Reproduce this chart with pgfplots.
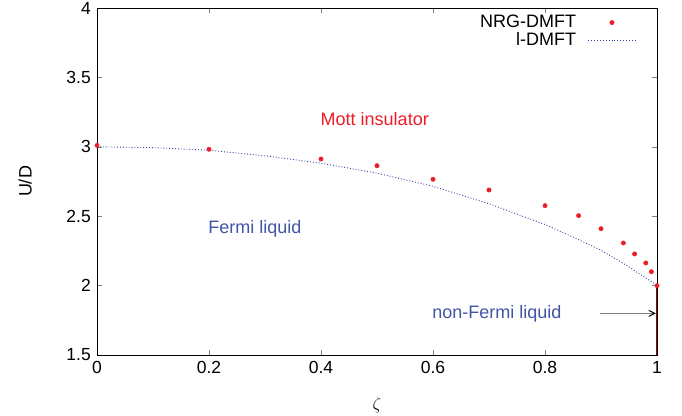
\documentclass[border=0pt]{standalone}
\usepackage{pgfplots}
\pgfplotsset{compat=1.18}
\usetikzlibrary{arrows.meta}
\usepackage{fontspec}
\setmainfont{Liberation Sans}
\definecolor{nrgred}{RGB}{235,30,40}
\definecolor{ldmftblue}{RGB}{45,65,165}
\definecolor{flblue}{RGB}{65,85,165}
\definecolor{darkred}{RGB}{130,10,10}
\pgfplotsset{
  dotleg/.style={legend image code/.code={\path (0bp,0bp) (47bp,0bp); \draw[##1] plot coordinates {(23.5bp,0bp)};}},
  lineleg/.style={legend image code/.code={\draw[##1] (0bp,0bp) -- (47bp,0bp);}},
}
\begin{document}
\fontsize{18bp}{20bp}\selectfont
\begin{tikzpicture}
\useasboundingbox (-97bp,-61bp) rectangle (585bp,355bp);
\begin{axis}[
  at={(0,0)}, anchor=south west,
  scale only axis, width=560bp, height=347bp,
  xmin=0, xmax=1, ymin=1.5, ymax=4,
  xtick={0,0.2,0.4,0.6,0.8,1},
  ytick={1.5,2,2.5,3,3.5,4},
  tick align=inside, major tick length=5bp,
  xtick pos=both, ytick pos=both,
  /pgf/number format/assume math mode=true,
  tick label style={font=\fontsize{17.5bp}{20bp}\selectfont},
  label style={font=\fontsize{18bp}{20bp}\selectfont},
  xlabel={$\zeta$}, ylabel={U/D},
  xlabel style={at={(axis description cs:0.5,-0.144)}, anchor=center},
  ylabel style={at={(axis description cs:-0.128,0.5)}, anchor=center},
  axis line style={line width=0.8pt},
  legend style={draw=none, fill=none, at={(0.968,0.992)}, anchor=north east,
    font=\fontsize{18bp}{18bp}\selectfont, row sep=-2bp,
    /tikz/every odd column/.append style={column sep=10bp}},
  legend cell align=right,
  legend plot pos=right,
]
\addplot[only marks, mark=*, mark size=2.2bp, color=nrgred, dotleg] coordinates {
(0,3.01) (0.2,2.982) (0.4,2.912) (0.5,2.864) (0.6,2.766) (0.7,2.689)
(0.8,2.576) (0.86,2.504) (0.9,2.41) (0.94,2.307) (0.96,2.228)
(0.98,2.163) (0.99,2.10) (1.0,2.0)};
\addlegendentry{NRG-DMFT}
\addplot[dotted, line width=0.9pt, color=ldmftblue, lineleg] coordinates {
(0,3.0) (0.1,2.994) (0.2,2.975) (0.3,2.935) (0.4,2.882) (0.5,2.81)
(0.6,2.715) (0.7,2.59) (0.8,2.44) (0.85,2.35) (0.9,2.255) (0.95,2.135)
(0.97,2.08) (0.99,2.03) (1.0,2.0)};
\addlegendentry{l-DMFT}
\addplot[line width=1.5pt, color=darkred, forget plot] coordinates {(1,1.5) (1,2.0)};
\addplot[line width=1pt, color=gray, -{Straight Barb[black,length=6bp,width=6bp]}, forget plot] coordinates {(0.898,1.8) (0.998,1.8)};
\node[text=nrgred] at (axis cs:0.496,3.20) {Mott insulator};
\node[text=flblue] at (axis cs:0.282,2.408) {Fermi liquid};
\node[text=flblue] at (axis cs:0.714,1.80) {non-Fermi liquid};
\end{axis}
\end{tikzpicture}
\end{document}
